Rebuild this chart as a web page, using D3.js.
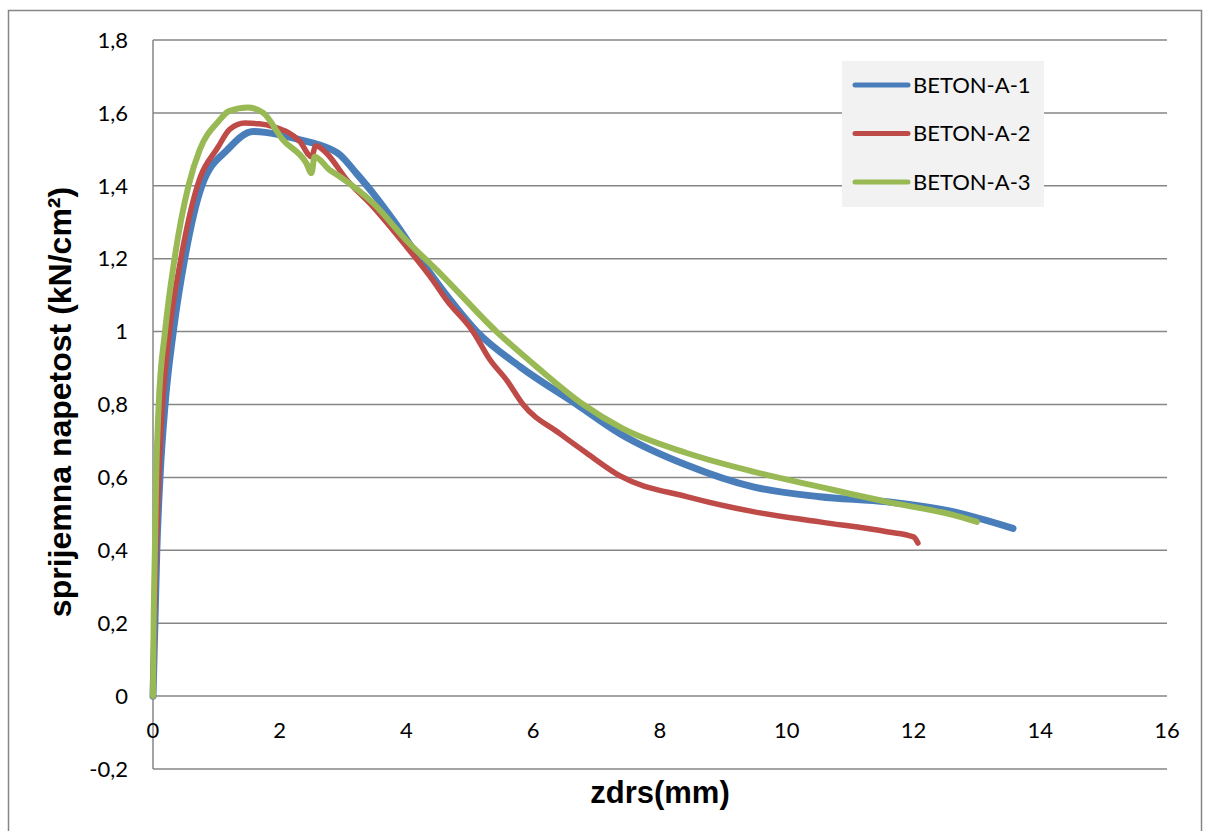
<!DOCTYPE html>
<html>
<head>
<meta charset="utf-8">
<script src="https://cdn.jsdelivr.net/npm/d3@7"></script>
<style>
  body { margin: 0; background: #fff; }
  svg { display: block; }
</style>
</head>
<body>
<svg id="chart" width="1210" height="831"></svg>
<script>
// series: [zdrs (mm), napetost (kN/cm2)]
const betonA1 = [[0,0],[0.03,0.2],[0.06,0.4],[0.11,0.6],[0.19,0.8],[0.32,1.0],[0.5,1.2],[0.77,1.4],[1.18,1.5],[1.58,1.549],[2.0,1.54],[2.32,1.526],[2.63,1.512],[2.95,1.485],[3.21,1.434],[3.47,1.38],[3.79,1.306],[4.21,1.2],[4.69,1.087],[5.11,1.0],[5.79,0.904],[6.69,0.8],[7.37,0.72],[8.42,0.634],[9.47,0.574],[10.52,0.547],[11.58,0.533],[12.62,0.506],[13.57,0.46]];
const betonA2 = [[0,0],[0.02,0.2],[0.05,0.4],[0.09,0.6],[0.15,0.8],[0.26,1.0],[0.44,1.2],[0.7,1.4],[1.03,1.507],[1.21,1.555],[1.45,1.572],[1.68,1.57],[1.9,1.562],[2.32,1.521],[2.5,1.48],[2.57,1.51],[2.74,1.489],[3.06,1.416],[3.47,1.343],[4.0,1.233],[4.42,1.14],[4.63,1.087],[5.05,1.0],[5.32,0.922],[5.58,0.867],[5.84,0.8],[6.42,0.72],[6.84,0.667],[7.37,0.604],[8.42,0.547],[9.47,0.506],[10.52,0.478],[11.58,0.451],[12.0,0.437],[12.07,0.42]];
const betonA3 = [[0,0],[0.01,0.2],[0.03,0.4],[0.05,0.6],[0.09,0.8],[0.19,1.0],[0.34,1.2],[0.56,1.4],[0.74,1.5],[1.03,1.576],[1.2,1.605],[1.5,1.615],[1.74,1.6],[2.05,1.526],[2.42,1.462],[2.5,1.435],[2.55,1.48],[2.79,1.443],[2.95,1.425],[3.47,1.353],[4.0,1.25],[4.53,1.16],[5.42,1.0],[6.05,0.904],[6.79,0.8],[7.4,0.735],[8.42,0.667],[9.47,0.616],[10.52,0.574],[11.58,0.533],[12.62,0.497],[13.0,0.478]];

const seriesNames = ["BETON-A-1", "BETON-A-2", "BETON-A-3"];
const seriesColors = ["#4a7ebb", "#be4b48", "#98b954"];
const xTicks = [0, 2, 4, 6, 8, 10, 12, 14, 16];
const yTicks = [-0.2, 0, 0.2, 0.4, 0.6, 0.8, 1, 1.2, 1.4, 1.6, 1.8];

const svg = d3.select("#chart");

// outer chart border
svg.append("rect")
    .attr("x", 8.5).attr("y", 10.5)
    .attr("width", 1193).attr("height", 840)
    .attr("fill", "none").attr("stroke", "#868686").attr("stroke-width", 1.5);

const x = d3.scaleLinear().domain([0, 16]).range([153, 1167]);
const y = d3.scaleLinear().domain([-0.2, 1.8]).range([769, 40]);

// comma decimals, plain hyphen for negatives
const fmt = v => d3.format(".1~f")(v).replace(".", ",").replace("\u2212", "-");

// horizontal gridlines
svg.append("g")
    .selectAll("line")
    .data(yTicks)
    .join("line")
    .attr("x1", x(0)).attr("x2", x(16))
    .attr("y1", d => y(d)).attr("y2", d => y(d))
    .attr("stroke", "#868686").attr("stroke-width", 1.5);

// y axis line
svg.append("line")
    .attr("x1", x(0)).attr("x2", x(0))
    .attr("y1", y(1.8)).attr("y2", y(-0.2))
    .attr("stroke", "#868686").attr("stroke-width", 1.5);

// y tick labels
svg.append("g")
    .selectAll("text")
    .data(yTicks)
    .join("text")
    .attr("x", 128)
    .attr("y", d => y(d))
    .attr("dy", "0.35em")
    .attr("text-anchor", "end")
    .attr("font-family", "Lato, sans-serif")
    .attr("font-size", "22px")
    .attr("fill", "#000")
    .text(d => fmt(d));

// x tick labels (axis crosses at y = 0)
svg.append("g")
    .selectAll("text")
    .data(xTicks)
    .join("text")
    .attr("x", d => x(d))
    .attr("y", y(0) + 34)
    .attr("dy", "0.35em")
    .attr("text-anchor", "middle")
    .attr("font-family", "Lato, sans-serif")
    .attr("font-size", "22px")
    .attr("fill", "#000")
    .text(d => fmt(d));

// curves
const line = d3.line()
    .x(d => x(d[0]))
    .y(d => y(d[1]))
    .curve(d3.curveMonotoneX);

const widths = [7, 5.5, 6];
[betonA1, betonA2, betonA3].forEach((s, i) => {
    svg.append("path")
        .datum(s)
        .attr("d", line)
        .attr("fill", "none")
        .attr("stroke", seriesColors[i])
        .attr("stroke-width", widths[i])
        .attr("stroke-linejoin", "round")
        .attr("stroke-linecap", "round");
});

// legend
const legend = svg.append("g").attr("transform", "translate(842,61)");
legend.append("rect")
    .attr("width", 202).attr("height", 146)
    .attr("fill", "#f2f2f2");
seriesNames.forEach((name, i) => {
    const ly = 24 + i * 48.5;
    legend.append("line")
        .attr("x1", 13).attr("x2", 66)
        .attr("y1", ly).attr("y2", ly)
        .attr("stroke", seriesColors[i]).attr("stroke-width", 5)
        .attr("stroke-linecap", "round");
    legend.append("text")
        .attr("x", 71).attr("y", ly)
        .attr("dy", "0.36em")
        .attr("font-family", "Lato, sans-serif")
        .attr("font-size", "22px")
        .attr("fill", "#000")
        .text(name);
});

// axis titles
svg.append("text")
    .attr("transform", "translate(71,402) rotate(-90)")
    .attr("text-anchor", "middle")
    .attr("font-family", "Liberation Sans, Arial, sans-serif")
    .attr("font-weight", "bold")
    .attr("font-size", "32px")
    .text("sprijemna napetost (kN/cm²)");

svg.append("text")
    .attr("x", 660).attr("y", 803)
    .attr("text-anchor", "middle")
    .attr("font-family", "Liberation Sans, Arial, sans-serif")
    .attr("font-weight", "bold")
    .attr("font-size", "31px")
    .text("zdrs(mm)");
</script>
</body>
</html>
